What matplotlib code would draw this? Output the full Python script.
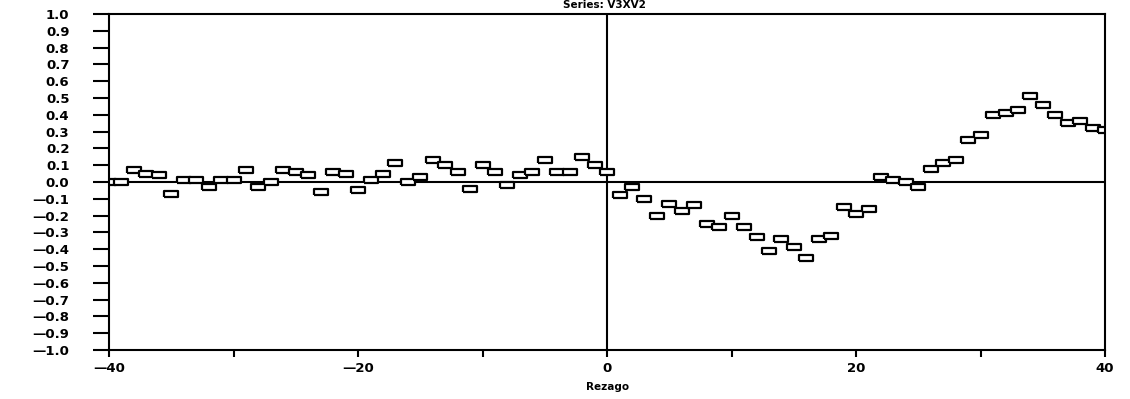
import numpy as np
import matplotlib
matplotlib.use("Agg")
import matplotlib.pyplot as plt

# cross-correlation values, lags -40..40
lags = np.arange(-40, 41)
ccf = [
    0.00, 0.00, 0.07, 0.05, 0.04, -0.07, 0.01, 0.01, -0.03, 0.01,
    0.01, 0.07, -0.03, 0.00, 0.07, 0.06, 0.04, -0.06, 0.06, 0.05,
    -0.05, 0.01, 0.05, 0.11, 0.00, 0.03, 0.13, 0.10, 0.06, -0.04,
    0.10, 0.06, -0.02, 0.04, 0.06, 0.13, 0.06, 0.06, 0.15, 0.10,
    0.06,
    -0.08, -0.03, -0.10, -0.20, -0.13, -0.17, -0.14, -0.25, -0.27, -0.20,
    -0.27, -0.33, -0.41, -0.34, -0.39, -0.45, -0.34, -0.32, -0.15, -0.19,
    -0.16, 0.03, 0.01, 0.00, -0.03, 0.08, 0.11, 0.13, 0.25, 0.28,
    0.40, 0.41, 0.43, 0.51, 0.46, 0.40, 0.35, 0.36, 0.32, 0.31,
]

yticks = np.round(np.arange(-1.0, 1.01, 0.1), 1)
ytick_labels = [("\u2014" if v < -0.01 else "") + f"{abs(v):.1f}" for v in yticks]
xticks = np.arange(-40, 41, 10)
xtick_labels = ["\u201440", "", "\u201420", "", "0", "", "20", "", "40"]

title = "Series: V3XV2"
xlabel = "Rezago"

fig = plt.figure(figsize=(11.3, 3.99), dpi=100)
ax = fig.add_axes([0.0965, 0.123, 0.8815, 0.842])

# hollow wide rectangles like the old plotter
box = [(-1, -0.5), (1, -0.5), (1, 0.5), (-1, 0.5), (-1, -0.5)]
ax.plot(lags, ccf, linestyle="none", marker=box, markersize=9.5,
        markerfacecolor="white", markeredgecolor="black", markeredgewidth=1.6)

ax.axhline(0, color="black", lw=1.5, zorder=1)
ax.axvline(0, color="black", lw=1.5, zorder=1)

ax.set_xlim(-40, 40)
ax.set_ylim(-1.0, 1.0)
ax.set_yticks(yticks)
ax.set_yticklabels(ytick_labels)
ax.set_xticks(xticks)
ax.set_xticklabels(xtick_labels)

for s in ax.spines.values():
    s.set_linewidth(1.5)

ax.tick_params(axis="y", length=11.5, width=1.5, pad=17, labelsize=9.5)
ax.tick_params(axis="x", length=5, width=1.5, pad=4, labelsize=9.5)
for lab in ax.get_xticklabels() + ax.get_yticklabels():
    lab.set_fontweight("bold")

fig.text(0.535, 0.999, title, ha="center", va="top",
         fontsize=7.5, fontweight="bold")
ax.set_xlabel(xlabel, fontsize=7.5, fontweight="bold", labelpad=5)

fig.savefig("out.png", dpi=100)
